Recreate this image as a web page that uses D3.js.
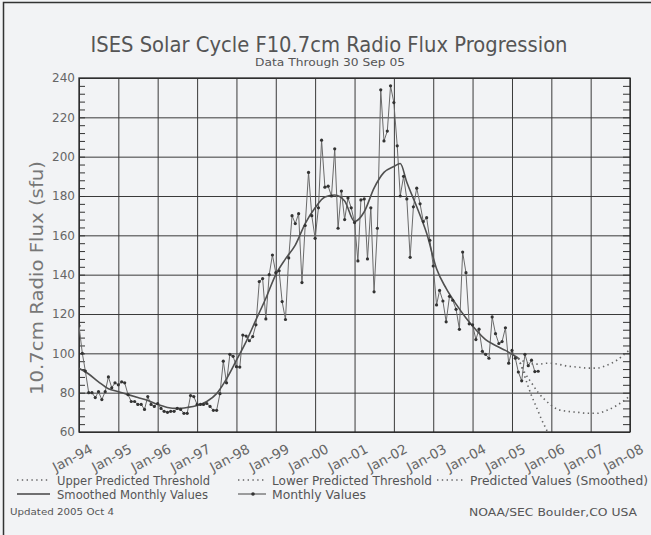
<!DOCTYPE html>
<html>
<head>
<meta charset="utf-8">
<script src="https://cdn.jsdelivr.net/npm/d3@7"></script>
<style>
html,body{margin:0;padding:0;background:#f2f3f5;}
svg{display:block;}
text{font-family:"DejaVu Sans",sans-serif;}
</style>
</head>
<body>
<script>
// ---------------- DATA ----------------
const startYear = 1994;
const xTickYears = [1994,1995,1996,1997,1998,1999,2000,2001,2002,2003,2004,2005,2006,2007,2008];
const xTickLabels = ["Jan-94","Jan-95","Jan-96","Jan-97","Jan-98","Jan-99","Jan-00","Jan-01","Jan-02","Jan-03","Jan-04","Jan-05","Jan-06","Jan-07","Jan-08"];
const yTickValues = [60,80,100,120,140,160,180,200,220,240];
const yTickLabels = ["60","80","100","120","140","160","180","200","220","240"];

// Monthly values, Jan 1994 .. Sep 2005
const monthlyValues = [
  114, 100, 91, 80, 80, 77.5, 80.5, 76.5, 80.5, 88, 82.5, 85,
  84, 85.5, 85, 79, 75.5, 75.5, 74, 74, 71.5, 78, 74, 73,
  74.5, 72, 70.5, 70, 70.5, 70.5, 72, 71.5, 69.5, 69.5, 78.5, 78,
  74, 74, 74, 74.5, 73, 71, 71, 79.5, 96, 85, 99.5, 98.5,
  93.2, 93, 109.3, 108.8, 106.4, 108.5, 114.5, 136.5, 138, 117.5, 140, 150,
  141, 142, 126.3, 117.2, 148.5, 170, 166, 171, 136, 165, 192, 170,
  158.5, 174, 208.4, 184.5, 185, 180, 204, 163.6, 182.5, 168, 179, 174,
  166.5, 147, 178, 178.5, 148, 174, 131.3, 163.6, 234, 208, 213, 236,
  227.5, 205.5, 180, 190, 178.5, 148.8, 174.5, 184, 176, 167, 169, 157.5,
  144.4, 124.6, 132, 126.6, 116, 129, 127, 122.4, 112.2, 151.5, 141, 115,
  114.5, 107, 112.3, 101, 99.5, 97.5, 118.5, 110, 105, 106, 113, 95,
  101.5, 97.5, 90.5, 86, 99.5, 93.7, 96.5, 90.7, 90.9
];

// Smoothed monthly values (month index from Jan 1994)
const smoothedMonths = [0,3,6,9,12,15,18,21,24,27,30,33,36,39,42,45,48,51,54,57,60,63,66,69,72,75,78,81,84,87,90,93,96,98,100,103,106,109,112,115,118,121,124,127,130,133,134];
const smoothedValues = [92.4,89.5,85.5,82,80.5,79,77.5,76,74,72.5,72,72.5,73.5,75.5,79.5,87,96.5,106,117,128,140,148,155,166,174,179.5,180.5,177.5,167,172,184,192,195,196.5,187,174.5,161,143,133,125,118,112,107,104,101.5,98.5,97.5];

// Predictions (month index from Jan 1994)
const upperMonths = [134,137,140,143,146,149,152,155,158,161,164,167,168];
const upperValues = [97.5,95,94.5,95,94.5,93.5,93,92.5,92.5,94,96.5,100.5,102];
const predMonths = [134,136,138,140,142,144,146,149,152,155,158,161,164,167,168];
const predValues = [97.5,90,85,80,76.5,73.5,71.5,70.5,70,69.5,69.5,71,73.5,77,78.5];
const lowerMonths = [134,135,136,137,138,139,140,141,142,143,144];
const lowerValues = [97.5,93,88,83,78.5,74.5,70.5,66.5,63,59.5,56];

// ---------------- CHART ----------------
const W = 651, H = 535;
const L = 79, R = 630, T = 78, B = 432;
const mdate = m => new Date(startYear, m, 1);

const svg = d3.select("body").append("svg").attr("width", W).attr("height", H);
svg.append("rect").attr("width", W).attr("height", H).attr("fill", "#f2f3f5");
// frame of the scanned page
svg.append("rect").attr("x", 3.5).attr("y", 2.5).attr("width", 720).attr("height", 600)
  .attr("fill", "none").attr("stroke", "#333").attr("stroke-width", 1.5);

const x = d3.scaleTime().domain([new Date(1994,0,1), new Date(2008,0,1)]).range([L, R]);
const y = d3.scaleLinear().domain([60,240]).range([B, T]);

// grid: horizontal
svg.append("g").attr("transform", `translate(${L},0)`)
  .call(d3.axisLeft(y).tickValues(yTickValues).tickSize(-(R-L)).tickFormat(""))
  .call(g => g.select(".domain").remove())
  .selectAll("line").attr("stroke", "#3a3a3a").attr("stroke-width", 1);
// grid: vertical
svg.append("g").attr("transform", `translate(0,${B})`)
  .call(d3.axisBottom(x).tickValues(xTickYears.map(yr => new Date(yr,0,1))).tickSize(-(B-T)).tickFormat(""))
  .call(g => g.select(".domain").remove())
  .selectAll("line").attr("stroke", "#3a3a3a").attr("stroke-width", 1);

// minor ticks left & right
const minor = d3.range(60, 241, 4);
svg.append("g").attr("transform", `translate(${L},0)`)
  .call(d3.axisLeft(y).tickValues(minor).tickSize(-6).tickFormat(""))
  .call(g => g.select(".domain").remove())
  .selectAll("line").attr("stroke", "#333");
svg.append("g").attr("transform", `translate(${R},0)`)
  .call(d3.axisRight(y).tickValues(minor).tickSize(-7).tickFormat(""))
  .call(g => g.select(".domain").remove())
  .selectAll("line").attr("stroke", "#333");

// plot border
svg.append("rect").attr("x", L).attr("y", T).attr("width", R-L).attr("height", B-T)
  .attr("fill", "none").attr("stroke", "#2a2a2a").attr("stroke-width", 1.3);

// y tick labels
const ya = svg.append("g").attr("transform", `translate(${L},0)`)
  .call(d3.axisLeft(y).tickValues(yTickValues).tickSize(0).tickPadding(4).tickFormat((d,i) => yTickLabels[i]));
ya.select(".domain").remove();
ya.selectAll("text").attr("font-size", 12).attr("fill", "#666").attr("font-family", "DejaVu Sans");

// x tick labels (rotated)
const xa = svg.append("g").attr("transform", `translate(0,${B})`)
  .call(d3.axisBottom(x).tickValues(xTickYears.map(yr => new Date(yr,0,1))).tickSize(0).tickFormat((d,i) => xTickLabels[i]));
xa.select(".domain").remove();
xa.selectAll("text")
  .attr("font-size", 13.5).attr("fill", "#666").attr("font-family", "DejaVu Sans")
  .attr("text-anchor", "end").attr("dy", null).attr("y", null)
  .attr("transform", "translate(14,20) rotate(-28)");

// clip
svg.append("clipPath").attr("id", "clip").append("rect")
  .attr("x", L).attr("y", T).attr("width", R-L).attr("height", B-T);
const plot = svg.append("g").attr("clip-path", "url(#clip)");

const line = d3.line().x(d => x(mdate(d[0]))).y(d => y(d[1]));
const curve = d3.line().x(d => x(mdate(d[0]))).y(d => y(d[1])).curve(d3.curveMonotoneX);

const monthly = monthlyValues.map((v,i) => [i, v]);
const smoothed = smoothedMonths.map((m,i) => [m, smoothedValues[i]]);
const upper = upperMonths.map((m,i) => [m, upperValues[i]]);
const pred = predMonths.map((m,i) => [m, predValues[i]]);
const lower = lowerMonths.map((m,i) => [m, lowerValues[i]]);

const dotStyle = sel => sel.attr("fill","none").attr("stroke","#666").attr("stroke-width",1.6)
  .attr("stroke-dasharray","1.4,3.4").attr("stroke-linecap","butt");
plot.append("path").datum(upper).attr("d", curve).call(dotStyle);
plot.append("path").datum(pred).attr("d", curve).call(dotStyle);
plot.append("path").datum(lower).attr("d", curve).call(dotStyle);

plot.append("path").datum(monthly).attr("d", line)
  .attr("fill","none").attr("stroke","#6a6a6a").attr("stroke-width",1);
plot.append("path").datum(smoothed).attr("d", curve)
  .attr("fill","none").attr("stroke","#505050").attr("stroke-width",1.6);
plot.selectAll("circle.m").data(monthly).enter().append("circle").attr("class","m")
  .attr("cx", d => x(mdate(d[0]))).attr("cy", d => y(d[1])).attr("r", 1.6).attr("fill", "#333");

// titles
svg.append("text").attr("x", 329).attr("y", 52).attr("text-anchor","middle")
  .attr("font-size", 21).attr("fill", "#555").attr("textLength", 477).attr("lengthAdjust","spacingAndGlyphs")
  .text("ISES Solar Cycle F10.7cm Radio Flux Progression");
svg.append("text").attr("x", 330).attr("y", 66).attr("text-anchor","middle")
  .attr("font-size", 10.5).attr("fill", "#555").attr("textLength", 150).attr("lengthAdjust","spacingAndGlyphs")
  .text("Data Through 30 Sep 05");
svg.append("text").attr("transform", "translate(43,278) rotate(-90)").attr("text-anchor","middle")
  .attr("font-size", 17).attr("fill", "#777").attr("textLength", 234).attr("lengthAdjust","spacingAndGlyphs")
  .text("10.7cm Radio Flux (sfu)");

// legend
const leg = svg.append("g");
function legText(xp, yp, txt, len, fs) {
  leg.append("text").attr("x", xp).attr("y", yp).attr("font-size", fs || 11.5).attr("fill", "#555")
    .attr("textLength", len).attr("lengthAdjust","spacingAndGlyphs").text(txt);
}
function dotSample(x1, x2, yp) {
  leg.append("line").attr("x1",x1).attr("x2",x2).attr("y1",yp).attr("y2",yp).call(dotStyle);
}
dotSample(17, 50, 480); legText(57, 485, "Upper Predicted Threshold", 153);
dotSample(238, 266, 480); legText(272, 485, "Lower Predicted Threshold", 160);
dotSample(437, 463, 480); legText(470, 485, "Predicted Values (Smoothed)", 178);
leg.append("line").attr("x1",17).attr("x2",50).attr("y1",494).attr("y2",494).attr("stroke","#444").attr("stroke-width",1.5);
legText(57, 499, "Smoothed Monthly Values", 151);
leg.append("line").attr("x1",238).attr("x2",266).attr("y1",494).attr("y2",494).attr("stroke","#444").attr("stroke-width",1);
leg.append("circle").attr("cx",253).attr("cy",494).attr("r",1.8).attr("fill","#333");
legText(272, 499, "Monthly Values", 94);
legText(10, 515, "Updated 2005 Oct  4", 104, 9);
legText(469, 516, "NOAA/SEC Boulder,CO USA", 168, 11);
</script>
</body>
</html>
